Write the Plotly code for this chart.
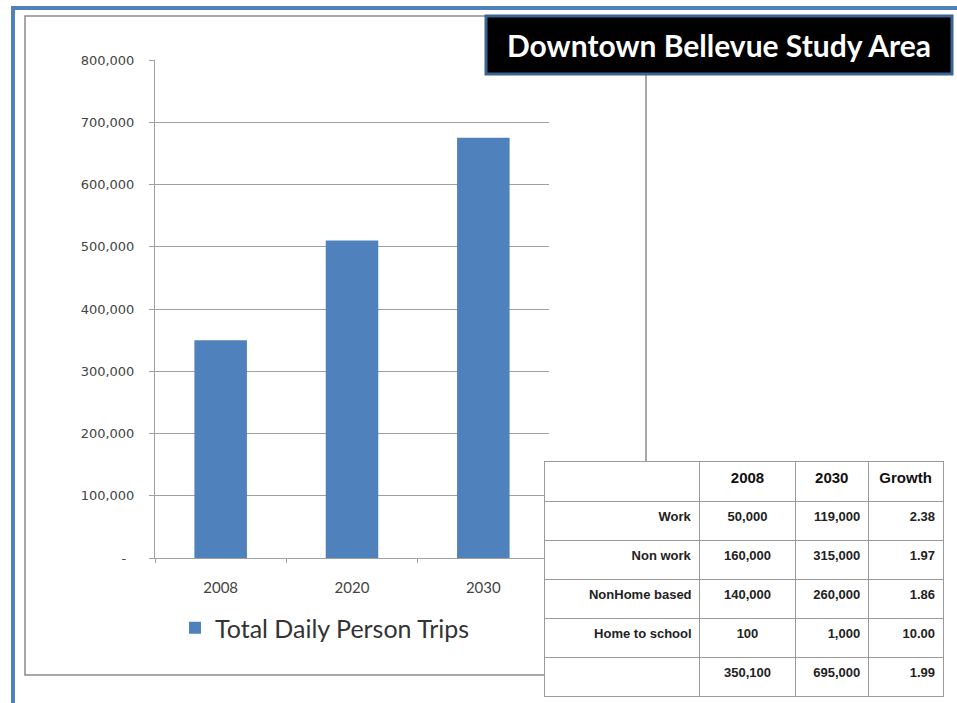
import plotly.graph_objects as go

# ---- data ----
years = ["2008", "2020", "2030"]
trips = [350000, 510000, 675000]
series_name = "Total Daily Person Trips"
y_tickvals = [0, 100000, 200000, 300000, 400000, 500000, 600000, 700000, 800000]
y_ticktext = ["-\u00a0\u00a0", "100,000", "200,000", "300,000", "400,000",
              "500,000", "600,000", "700,000", "800,000"]
title_text = "Downtown Bellevue Study Area"

table_header = ["", "2008", "2030", "Growth"]
trip_types = ["Work", "Non work", "NonHome based", "Home to school", ""]
trips_2008 = ["50,000", "160,000", "140,000", "100", "350,100"]
trips_2030 = ["119,000", "315,000", "260,000", "1,000", "695,000"]
growth = ["2.38", "1.97", "1.86", "10.00", "1.99"]

W, H = 957, 703
def px(x): return x / W
def py(y): return 1 - y / H

BLUE = "#4F81BD"
GRID = "#A0A0A0"

fig = go.Figure()
fig.add_trace(go.Bar(
    x=years, y=trips, name=series_name, marker=dict(color=BLUE, line=dict(width=0)),
    width=0.4, showlegend=True,
))

bold = lambda s: f"<b>{s}</b>" if s else ""
fig.add_trace(go.Table(
    domain=dict(x=[px(544), px(944)], y=[py(700), py(461)]),
    columnwidth=[156, 96, 73, 75],
    header=dict(
        values=[bold(s) for s in table_header],
        align="center", height=40, fill=dict(color="white"),
        line=dict(color="#9A9A9A", width=1),
        font=dict(family="Liberation Sans, Arial", size=15, color="#111"),
    ),
    cells=dict(
        values=[[bold(s) for s in trip_types], [bold(s) for s in trips_2008],
                [bold(s) for s in trips_2030], [bold(s) for s in growth]],
        align=["right", "center", "right", "right"], height=39,
        fill=dict(color="white"),
        line=dict(color="#9A9A9A", width=1),
        font=dict(family="Liberation Sans, Arial", size=13, color="#222"),
    ),
))

shapes = [
    # outer blue border (left and top)
    dict(type="rect", xref="paper", yref="paper", x0=px(11), x1=px(15), y0=py(703), y1=py(6),
         fillcolor=BLUE, line=dict(width=0), layer="below"),
    dict(type="rect", xref="paper", yref="paper", x0=px(11), x1=px(957), y0=py(10), y1=py(6),
         fillcolor=BLUE, line=dict(width=0), layer="below"),
    # chart frame
    dict(type="rect", xref="paper", yref="paper", x0=px(25), x1=px(646), y0=py(675), y1=py(16),
         fillcolor="rgba(0,0,0,0)", line=dict(color="#8C8C8C", width=1.5), layer="below"),
    # title box
    dict(type="rect", xref="paper", yref="paper", x0=px(486), x1=px(952), y0=py(74), y1=py(16),
         fillcolor="black", line=dict(color="#3C6394", width=3), layer="above"),
]

fig.update_layout(
    width=W, height=H, margin=dict(l=0, r=0, t=0, b=0, autoexpand=False),
    paper_bgcolor="white", plot_bgcolor="white",
    bargap=0.6,
    shapes=shapes,
    annotations=[dict(
        text=f"<b>{title_text}</b>", xref="paper", yref="paper", x=px(719), y=py(45),
        xanchor="center", yanchor="middle", showarrow=False,
        font=dict(family="Lato", size=30, color="white"),
    )],
    xaxis=dict(
        domain=[px(155), px(549)], showgrid=False, showline=True, linecolor=GRID, linewidth=1,
        ticks="outside", tickson="boundaries", ticklen=4, tickcolor=GRID,
        tickfont=dict(family="Lato", size=15, color="#444"), ticklabelstandoff=16,
        automargin=False,
    ),
    yaxis=dict(
        domain=[py(558), py(60)], range=[0, 800000], tickvals=y_tickvals, ticktext=y_ticktext,
        showgrid=True, gridcolor=GRID, gridwidth=1, showline=True, linecolor=GRID, linewidth=1,
        ticks="outside", ticklen=5, tickcolor=GRID, zeroline=False,
        tickfont=dict(family="DejaVu Sans", size=13, color="#444"), ticklabelstandoff=12,
        automargin=False,
    ),
    showlegend=True,
    legend=dict(
        x=px(325), y=py(628), xanchor="center", yanchor="middle", orientation="h",
        font=dict(family="Lato", size=25, color="#333"), bgcolor="rgba(0,0,0,0)",
    ),
)

fig.write_html(
    "out.html",
    config={"displayModeBar": False},
    post_script="document.body.style.margin='0px';document.body.style.overflow='hidden';",
)
